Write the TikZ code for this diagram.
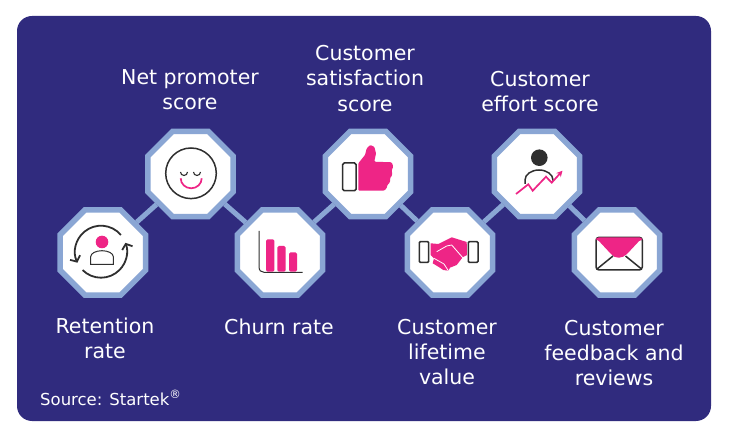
\documentclass[tikz,border=0pt]{standalone}
\usepackage{fontspec}
\setmainfont{DejaVu Sans}
\usetikzlibrary{shapes.geometric,arrows.meta}
\definecolor{panelblue}{HTML}{302B7E}
\definecolor{ringblue}{HTML}{8AA6D4}
\definecolor{hotpink}{HTML}{EE2586}
\definecolor{inkdark}{HTML}{2F2F2F}
\tikzset{
	octa/.style={regular polygon, regular polygon sides=8, draw=ringblue, fill=white, line width=5.5pt, minimum size=92.5pt, inner sep=0pt},
	link/.style={ringblue, line width=5pt},
	caption/.style={white, align=center, font=\fontsize{20.5}{25.2}\selectfont},
	ink/.style={inkdark, line width=1.5pt}
}
\begin{document}
\begin{tikzpicture}[x=1pt,y=-1pt]
	\useasboundingbox (0,0) rectangle (731,438);
	\fill[panelblue, rounded corners=15pt] (17,16) rectangle (711,421);
	% octagon row
	\node[octa] (retention) at (102.8,252.5) {};
	\node[octa] (promoter) at (190.5,174) {};
	\node[octa] (churn) at (280,252.5) {};
	\node[octa] (satisfaction) at (368,174) {};
	\node[octa] (lifetime) at (450,252.5) {};
	\node[octa] (effort) at (537,174) {};
	\node[octa] (feedback) at (617,252.5) {};
	\draw[link] (retention) -- (promoter);
	\draw[link] (promoter) -- (churn);
	\draw[link] (churn) -- (satisfaction);
	\draw[link] (satisfaction) -- (lifetime);
	\draw[link] (lifetime) -- (effort);
	\draw[link] (effort) -- (feedback);
	% retention icon
	\draw[ink, line width=1.8pt, -{Straight Barb[length=4.5pt,width=11pt]}] (101,251.7) ++(-40:26) arc (-40:-205:26);
	\draw[ink, line width=1.8pt, -{Straight Barb[length=4.5pt,width=11pt]}] (101,251.7) ++(-225:26) arc (-225:-380:26);
	\fill[hotpink] (102,242) circle (6.3);
	\draw[ink, line width=1pt] (90.7,264.3) -- (90.7,256.7) arc (180:360:11.3 and 6) -- (113.3,264.3) -- cycle;
	% smiley icon
	\draw[ink] (191,173.3) circle (25.3);
	\draw[ink, line width=1.1pt] (180.5,172) arc (180:0:3.5);
	\draw[ink, line width=1.1pt] (193.5,172) arc (180:0:3.5);
	\draw[hotpink, line width=1.7pt] (180.7,178.3) arc (180:0:10.5 and 10);
	% chart icon
	\draw[ink, line width=1pt] (259,231) -- (259,266.7) .. controls (259,270.5) and (261,272.3) .. (264,272.3) -- (302.7,272.3);
	\fill[hotpink, rounded corners=1.5pt] (266,271.7) -- (266,239.3) -- (274.3,239.3) -- (274.3,271.7) -- cycle;
	\fill[hotpink, rounded corners=1.5pt] (277.3,271.7) -- (277.3,246) -- (285.7,246) -- (285.7,271.7) -- cycle;
	\fill[hotpink, rounded corners=1.5pt] (289,271.7) -- (289,252.3) -- (297,252.3) -- (297,271.7) -- cycle;
	% thumb icon
	\draw[ink, rounded corners=1.5pt] (342.7,163) rectangle (356,190.7);
	\fill[hotpink, rounded corners=1pt] (358.3,190.7) -- (358.3,163.3) -- (365,155) -- (366.7,148.3) -- (370,145) -- (374.3,146.7) -- (376,153.3) -- (374.3,161.7) -- (391.7,162.3) -- (393.3,166.7) -- (391.7,170) -- (392.3,175) -- (390,178.3) -- (390,182.3) -- (387.3,185) -- (386.7,188.3) -- (384,190.7) -- cycle;
	% handshake icon
	\draw[ink, rounded corners=1pt] (419.3,241.7) rectangle (428.7,262.3);
	\draw[ink, rounded corners=1pt] (468.3,241.7) rectangle (478,262.3);
	\fill[hotpink] (430.7,243.3) -- (438.3,244) -- (451.7,237.3) -- (466.7,242) -- (467,255) -- (462.7,257.3) -- (456.7,265) -- (450,267.7) -- (448.3,270.7) -- (443.3,270) -- (438.3,266.7) -- (432.7,263.3) -- (434,258.3) -- (430.7,255) -- cycle;
	\draw[white, line width=.8pt] (436.7,251.7) -- (446.7,246) -- (451.7,245) -- (463.3,258.3);
	\draw[white, line width=.8pt] (434,258.3) -- (444,264) -- (448.3,270.7);
	% effort icon
	\fill[inkdark] (539.3,157.7) circle (8.3);
	\draw[ink] (525,184) -- (525,180) arc (180:360:14 and 10) -- (553,181);
	\draw[hotpink, line width=1.7pt, -{Stealth[length=6pt,width=6pt]}] (516,194) -- (528.3,184.3) -- (532.7,190.7) -- (546,176.7) -- (551.7,182.7) -- (562.5,170.7);
	% envelope icon
	\fill[hotpink] (597,239) -- (641,239) -- (627,254) .. controls (622,259) and (615,259) .. (611,254) -- cycle;
	\draw[ink, rounded corners=3pt] (596,237.3) rectangle (642.3,270);
	\fill[hotpink, rounded corners=3pt] (596,237.3) -- (642.3,237.3) -- (642,241) -- (596.5,241) -- cycle;
	\draw[ink] (597,269) -- (613,256);
	\draw[ink] (641.5,269) -- (625.5,256);
	% labels
	\node[caption] (lblpromoter) at (190,89.5) {Net promoter\\score};
	\node[caption] (lblsatisfaction) at (365,78.5) {Customer\\satisfaction\\score};
	\node[caption] (lbleffort) at (540,91.5) {Customer\\effort score};
	\node[caption] (lblretention) at (105,338.5) {Retention\\rate};
	\node[caption] (lblchurn) at (279,327) {Churn rate};
	\node[caption] (lbllifetime) at (447,352) {Customer\\lifetime\\value};
	\node[caption] (lblfeedback) at (614,353) {Customer\\feedback and\\reviews};
	\node[white, anchor=west, inner sep=0pt, font=\fontsize{16.5}{18}\selectfont] (source) at (40,398) {Source: Startek\textsuperscript{®}};
\end{tikzpicture}
\end{document}
